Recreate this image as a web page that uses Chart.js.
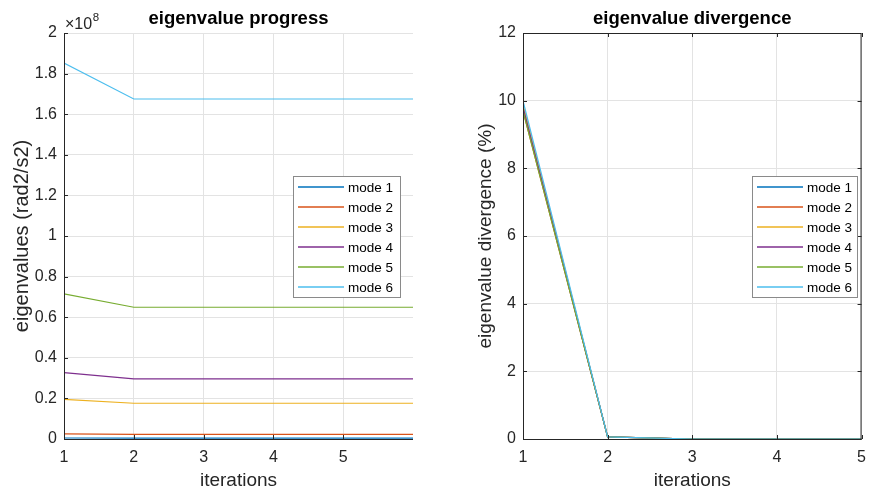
<!DOCTYPE html>
<html>
<head>
<meta charset="utf-8">
<script src="https://cdn.jsdelivr.net/npm/chart.js@4"></script>
<style>
html,body{margin:0;padding:0;background:#fff;}
#wrap{position:relative;width:875px;height:491px;background:#fff;}
#c1{position:absolute;left:0;top:0;}
#c2{position:absolute;left:437px;top:0;}
</style>
</head>
<body>
<div id="wrap">
<canvas id="c1" width="437" height="491"></canvas>
<canvas id="c2" width="438" height="491"></canvas>
</div>
<script>
// ---- data ----
const modeLabels = ['mode 1','mode 2','mode 3','mode 4','mode 5','mode 6'];
const modeColors = ['#0072BD','#D95319','#EDB120','#7E2F8E','#77AC30','#4DBEEE'];
const progressIterations = [1, 2, 3, 4, 5, 6];
const mode1Eig = [0.005e8, 0.004e8, 0.004e8, 0.004e8, 0.004e8, 0.004e8];
const mode2Eig = [0.025e8, 0.023e8, 0.023e8, 0.023e8, 0.023e8, 0.023e8];
const mode3Eig = [0.195e8, 0.176e8, 0.176e8, 0.176e8, 0.176e8, 0.176e8];
const mode4Eig = [0.327e8, 0.296e8, 0.296e8, 0.296e8, 0.296e8, 0.296e8];
const mode5Eig = [0.715e8, 0.649e8, 0.649e8, 0.649e8, 0.649e8, 0.649e8];
const mode6Eig = [1.852e8, 1.675e8, 1.675e8, 1.675e8, 1.675e8, 1.675e8];
const divergenceIterations = [1, 2, 3, 4, 5];
const mode1Div = [9.8, 0.06, 0, 0, 0];
const mode2Div = [9.7, 0.06, 0, 0, 0];
const mode3Div = [9.9, 0.06, 0, 0, 0];
const mode4Div = [9.8, 0.06, 0, 0, 0];
const mode5Div = [9.7, 0.06, 0, 0, 0];
const mode6Div = [10.0, 0.06, 0, 0, 0];
const xTickValues = [1, 2, 3, 4, 5];
const yTicksProgress = [0, 0.2, 0.4, 0.6, 0.8, 1, 1.2, 1.4, 1.6, 1.8, 2];
const yTicksDivergence = [0, 2, 4, 6, 8, 10, 12];

const eigSeries = [mode1Eig, mode2Eig, mode3Eig, mode4Eig, mode5Eig, mode6Eig];
const divSeries = [mode1Div, mode2Div, mode3Div, mode4Div, mode5Div, mode6Div];

const FONT = '"Liberation Sans", Arial, Helvetica, sans-serif';
const AX = '#262626';
const GRID = '#e3e3e3';

function makeDatasets(xs, series) {
  return series.map((vals, i) => ({
    label: modeLabels[i],
    data: vals.map((v, k) => ({x: xs[k], y: v})),
    borderColor: modeColors[i],
    backgroundColor: modeColors[i],
    borderWidth: 1.2,
    pointRadius: 0,
    tension: 0,
    fill: false,
    order: series.length - i
  }));
}

// draws title, axes, inward ticks, legend and exponent label
const decorPlugin = {
  id: 'decor',
  afterDraw(chart) {
    const o = chart.options.plugins.decor;
    const ctx = chart.ctx;
    const a = chart.chartArea;
    const xs = chart.scales.x, ys = chart.scales.y;
    ctx.save();
    // axis lines
    ctx.strokeStyle = AX;
    ctx.lineWidth = 1;
    ctx.beginPath();
    ctx.moveTo(a.left + 0.5, a.top);
    ctx.lineTo(a.left + 0.5, a.bottom + 0.5);
    ctx.lineTo(a.right, a.bottom + 0.5);
    if (o.box) {
      ctx.moveTo(a.left, a.top + 0.5);
      ctx.lineTo(a.right - 0.5, a.top + 0.5);
      ctx.lineTo(a.right - 0.5, a.bottom);
    }
    ctx.stroke();
    // inward ticks
    const tl = 4;
    ctx.beginPath();
    o.xTicks.forEach(v => {
      const px = Math.round(xs.getPixelForValue(v)) + 0.5;
      ctx.moveTo(px, a.bottom); ctx.lineTo(px, a.bottom - tl);
      if (o.box) { ctx.moveTo(px, a.top); ctx.lineTo(px, a.top + tl); }
    });
    o.yTicks.forEach(v => {
      const py = Math.round(ys.getPixelForValue(v * o.yScale)) + 0.5;
      ctx.moveTo(a.left, py); ctx.lineTo(a.left + tl, py);
      if (o.box) { ctx.moveTo(a.right, py); ctx.lineTo(a.right - tl, py); }
    });
    ctx.stroke();
    // title
    ctx.fillStyle = '#000';
    ctx.font = 'bold 18.5px ' + FONT;
    ctx.textAlign = 'center';
    ctx.textBaseline = 'middle';
    ctx.fillText(o.title, (a.left + a.right) / 2, 19);
    // exponent
    if (o.exponent) {
      ctx.fillStyle = AX;
      ctx.textAlign = 'left';
      ctx.textBaseline = 'alphabetic';
      ctx.font = '16px ' + FONT;
      ctx.fillText('\u00d710', a.left + 1, 29);
      const w = ctx.measureText('\u00d710').width;
      ctx.font = '11.5px ' + FONT;
      ctx.fillText(o.exponent, a.left + 1 + w + 0.5, 21);
    }
    // legend
    const lx = a.left + o.legendX, ly = a.top + o.legendY;
    const lw = o.legendW, lh = 121;
    ctx.fillStyle = '#fff';
    ctx.fillRect(lx, ly, lw, lh);
    ctx.strokeStyle = '#8a8a8a';
    ctx.lineWidth = 1;
    ctx.strokeRect(lx + 0.5, ly + 0.5, lw, lh);
    ctx.font = '13.5px ' + FONT;
    ctx.textAlign = 'left';
    ctx.textBaseline = 'middle';
    modeLabels.forEach((lab, i) => {
      const yy = Math.round(ly + 11 + i * 20);
      ctx.strokeStyle = modeColors[i];
      ctx.lineWidth = 1.5;
      ctx.beginPath();
      ctx.moveTo(lx + 5, yy);
      ctx.lineTo(lx + 51, yy);
      ctx.stroke();
      ctx.fillStyle = '#000';
      ctx.fillText(lab, lx + 55, yy + 1);
    });
    ctx.restore();
  }
};

function makeChart(id, xs, series, cfg) {
  return new Chart(document.getElementById(id), {
    type: 'line',
    data: { datasets: makeDatasets(xs, series) },
    plugins: [decorPlugin],
    options: {
      responsive: false,
      animation: false,
      events: [],
      layout: { padding: { top: 33, right: cfg.padRight, left: 0, bottom: 0 } },
      plugins: {
        legend: { display: false },
        title: { display: false },
        tooltip: { enabled: false },
        decor: {
          title: cfg.title, box: cfg.box, exponent: cfg.exponent,
          xTicks: xTickValues, yTicks: cfg.yTicks, yScale: cfg.yScale,
          legendX: 229, legendY: 143, legendW: cfg.legendW
        }
      },
      scales: {
        x: {
          type: 'linear',
          min: 1, max: cfg.xMax,
          afterBuildTicks: s => { s.ticks = xTickValues.map(v => ({value: v})); },
          afterFit: s => { s.height = 52; },
          grid: { color: GRID, drawTicks: false, lineWidth: 1 },
          border: { display: false },
          ticks: { color: AX, font: { family: FONT, size: 16 }, padding: 9, maxRotation: 0, callback: v => String(v) },
          title: { display: true, text: 'iterations', color: AX, font: { family: FONT, size: 19 }, padding: { top: 2, bottom: -1 } }
        },
        y: {
          type: 'linear',
          min: 0, max: cfg.yMax,
          afterBuildTicks: s => { s.ticks = cfg.yTicks.map(v => ({value: v * cfg.yScale})); },
          afterFit: s => { s.width = cfg.yWidth; },
          grid: { color: GRID, drawTicks: false, lineWidth: 1 },
          border: { display: false },
          ticks: { color: AX, font: { family: FONT, size: 16 }, padding: 7, callback: v => String(Math.round(v / cfg.yScale * 100) / 100) },
          title: { display: true, text: cfg.yTitle, color: AX, font: { family: FONT, size: cfg.yTitleSize }, padding: { top: cfg.yTitlePad, bottom: 0 } }
        }
      }
    }
  });
}

makeChart('c1', progressIterations, eigSeries, {
  title: 'eigenvalue progress', box: false, exponent: '8',
  xMax: 6, yMax: 2e8, yScale: 1e8, yTicks: yTicksProgress,
  yWidth: 64, padRight: 24, yTitle: 'eigenvalues (rad2/s2)', yTitleSize: 20, yTitlePad: 10, legendW: 107
});
makeChart('c2', divergenceIterations, divSeries, {
  title: 'eigenvalue divergence', box: true, exponent: null,
  xMax: 5, yMax: 12, yScale: 1, yTicks: yTicksDivergence,
  yWidth: 86, padRight: 4, yTitle: 'eigenvalue divergence (%)', yTitleSize: 19, yTitlePad: 37, legendW: 105
});
</script>
</body>
</html>
